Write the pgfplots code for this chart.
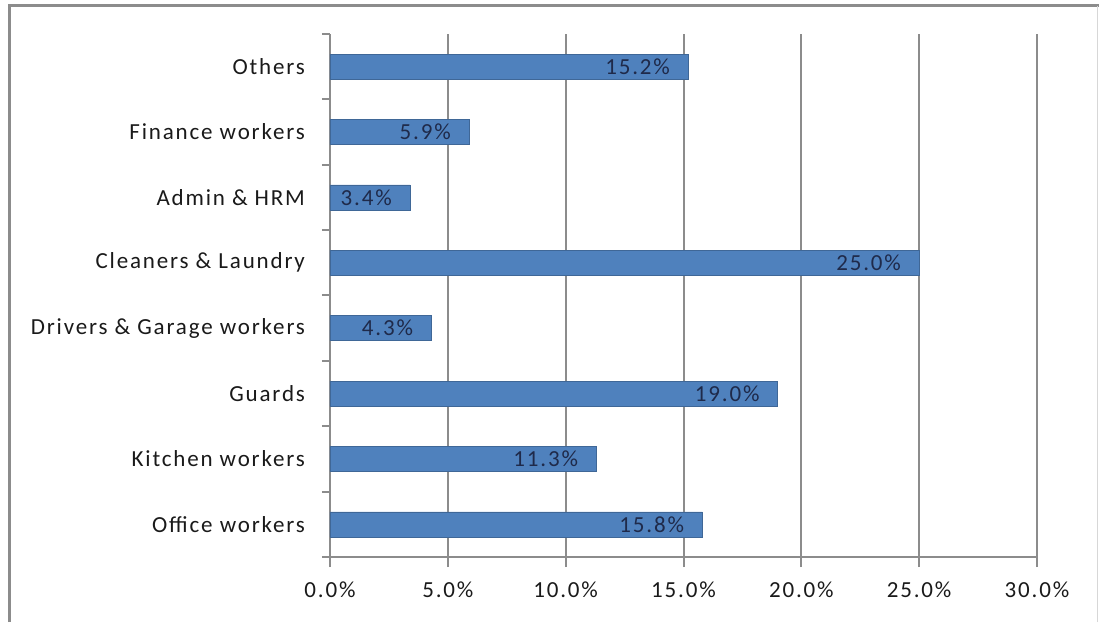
\documentclass[border=0pt]{standalone}
\usepackage{pgfplots}
\pgfplotsset{compat=1.18}
\usepackage{fontspec}
\setmainfont{Carlito}[LetterSpace=8]
\definecolor{barblue}{HTML}{4F81BD}
\definecolor{gridgray}{HTML}{8C8C8C}
\definecolor{labelnavy}{HTML}{1F2A4A}
\definecolor{txt}{HTML}{1A1A1A}
\begin{document}
\begin{tikzpicture}
\useasboundingbox (0,0) rectangle (549.5pt,311pt);
% outer chart frame
\draw[gridgray, line width=1.5pt] (4.5pt,0) -- (4.5pt,308pt) -- (549.5pt,308pt);
\draw[gridgray!35, line width=0.6pt] (548.6pt,0) -- (548.6pt,308pt);
\begin{axis}[
  at={(165pt,32.5pt)}, anchor=south west,
  scale only axis, width=353.5pt, height=261.5pt,
  xbar, bar width=12.5pt,
  xmin=0, xmax=30, ymin=-0.5, ymax=7.5,
  axis x line*=bottom, axis y line*=left,
  axis line style={gridgray, line width=1pt},
  xtick={0,5,...,30},
  xmajorgrids, major grid style={gridgray, line width=1pt},
  tick align=outside,
  major tick length=5pt,
  minor tick length=4pt,
  x tick style={gridgray, line width=1pt},
  xticklabel={\pgfmathprintnumber[fixed,fixed zerofill,precision=1]{\tick}\%},
  /pgf/number format/assume math mode=true,
  ytick={0,...,7},
  yticklabels={Office workers, Kitchen workers, Guards, Drivers \& Garage workers,
    Cleaners \& Laundry, Admin \& HRM, Finance workers, Others},
  y tick style={draw=none},
  minor ytick={-0.5,0.5,...,7.5},
  minor y tick style={gridgray, line width=1pt, draw=gridgray},
  ticklabel style={font=\fontsize{11.5}{13}\selectfont, text=txt},
  yticklabel style={xshift=-4pt},
  xticklabel style={yshift=-4pt},
  nodes near coords={\pgfmathprintnumber[fixed,fixed zerofill,precision=1]{\pgfplotspointmeta}\%},
  nodes near coords style={anchor=east, xshift=-9pt, inner sep=0pt,
    font=\fontsize{11.5}{13}\selectfont, text=labelnavy},
]
\addplot[fill=barblue, draw=barblue!80!black, line width=0.3pt] coordinates {
  (15.8,0) (11.3,1) (19.0,2) (4.3,3) (25.0,4) (3.4,5) (5.9,6) (15.2,7)
};
\end{axis}
\end{tikzpicture}
\end{document}
